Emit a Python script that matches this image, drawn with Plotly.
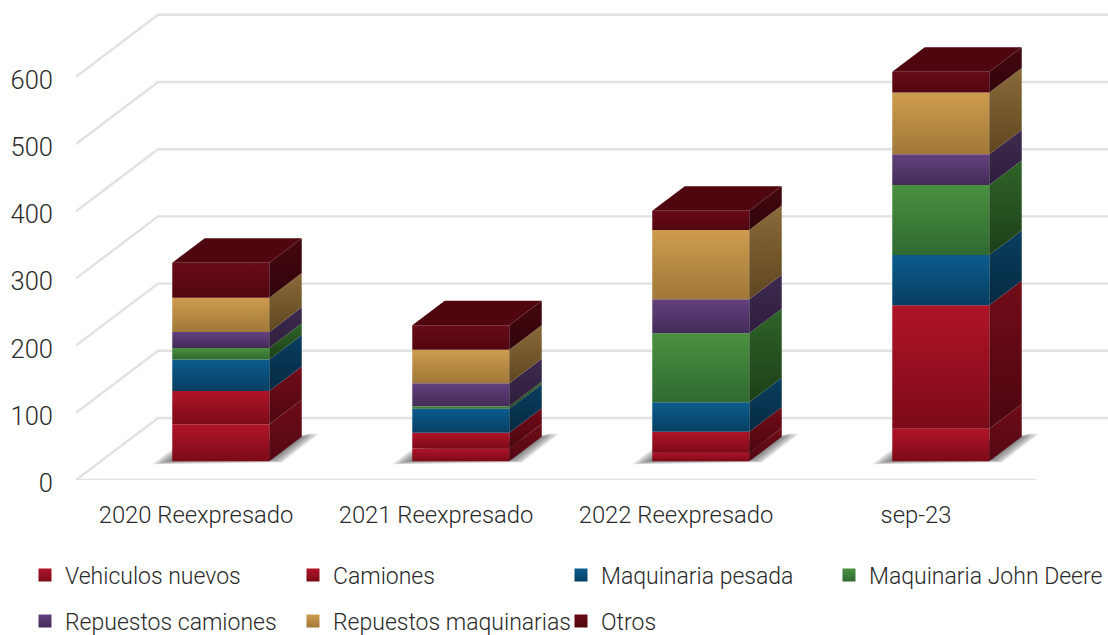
import plotly.graph_objects as go

CATEGORIES = ["2020 Reexpresado", "2021 Reexpresado", "2022 Reexpresado", "sep-23"]
TICKS = [0, 100, 200, 300, 400, 500, 600]
VEHICULOS = [55, 18.9, 12.8, 48.5]
CAMIONES = [49.5, 23.4, 31.2, 183.7]
PESADA = [47, 35.7, 43.8, 74.9]
DEERE = [17.2, 3.9, 102.7, 104]
REP_CAMIONES = [23.8, 34.2, 50.6, 45.6]
REP_MAQUINARIAS = [51, 49.7, 103.1, 92.1]
OTROS = [52, 36.6, 28.7, 30.8]

SERIES = [
    ("Vehiculos nuevos", VEHICULOS, "#B01428", "#7C0A18", "#6E0C18", "#530812"),
    ("Camiones", CAMIONES, "#B01428", "#7C0A18", "#720C18", "#4C0610"),
    ("Maquinaria pesada", PESADA, "#0B5C8E", "#073F62", "#0B3E60", "#042A42"),
    ("Maquinaria John Deere", DEERE, "#4A9040", "#2F6A30", "#2F6428", "#1C3F18"),
    ("Repuestos camiones", REP_CAMIONES, "#64407E", "#432C58", "#3E2A50", "#2E1E3C"),
    ("Repuestos maquinarias", REP_MAQUINARIAS, "#CE9C4E", "#A07838", "#8A6A3A", "#5F4620"),
    ("Otros", OTROS, "#680B18", "#520610", "#46070F", "#30040A"),
]
TOP_COLOR = "#50060F"
LEGEND_GROUPS = ["legend", "legend", "legend", "legend2", "legend3", "legend3", "legend3"]

FIG_W, FIG_H = 1108, 635
PX_CAT, PX_VAL = 240.0, 0.672      # pixels per category, per value unit
DX, DY = 82 / PX_CAT, 62 / PX_VAL  # oblique projection of the chart depth
BAR_W = 97 / PX_CAT
D0, D1 = 0.302, 0.698              # bar depth span in the floor
XMIN, XMAX = -0.5, 3.8
FONT = "Roboto"
TEXT = "#2A2A2A"
GRID = "#E2E2E2"


def proj(x, v, d):
    return x + d * DX, v + d * DY


def poly(points, c_top, c_bot):
    xs = [p[0] for p in points] + [points[0][0]]
    ys = [p[1] for p in points] + [points[0][1]]
    return go.Scatter(
        x=xs, y=ys, mode="lines", fill="toself", line=dict(width=0),
        fillgradient=dict(type="vertical", colorscale=[[0, c_bot], [1, c_top]]),
        showlegend=False, hoverinfo="skip", cliponaxis=False,
    )


fig = go.Figure()

# walls: one L-shaped gridline per tick
for t in TICKS:
    a = proj(XMIN, t, 0)
    b = proj(XMIN, t, 1)
    fig.add_trace(go.Scatter(
        x=[a[0], b[0], XMAX], y=[a[1], b[1], b[1]], mode="lines",
        line=dict(color=GRID, width=2.4), showlegend=False,
        hoverinfo="skip", cliponaxis=False,
    ))
fig.add_trace(go.Scatter(
    x=[XMIN, len(CATEGORIES) - 0.5], y=[0, 0], mode="lines",
    line=dict(color=GRID, width=2.4), showlegend=False,
    hoverinfo="skip", cliponaxis=False,
))

# bars
SHADOW = [(-20, -3), (110, -1), (146, 27), (138, 28), (129, 24.5), (0, 12)]  # px offsets from bar corner
SH_C = (64.5, 12)
for i in range(len(CATEGORIES)):
    x0, x1 = i - BAR_W / 2, i + BAR_W / 2
    f0 = proj(x0, 0, D0)
    for s in (1.0, 0.96, 0.92, 0.88, 0.84, 0.8, 0.76, 0.72):
        pts = [(f0[0] + (SH_C[0] + (px - SH_C[0]) * s) / PX_CAT,
                f0[1] + (SH_C[1] + (py - SH_C[1]) * s) / PX_VAL) for px, py in SHADOW]
        pts.append(pts[0])
        fig.add_trace(go.Scatter(
            x=[p[0] for p in pts], y=[p[1] for p in pts], mode="lines", fill="toself",
            line=dict(width=0), fillcolor="rgba(64,64,64,0.15)",
            showlegend=False, hoverinfo="skip", cliponaxis=False,
        ))

    bottom = 0
    for name, vals, ft, fb, st, sb in SERIES:
        top = bottom + vals[i]
        fig.add_trace(poly([proj(x0, bottom, D0), proj(x1, bottom, D0),
                            proj(x1, top, D0), proj(x0, top, D0)], ft, fb))
        fig.add_trace(poly([proj(x1, bottom, D0), proj(x1, bottom, D1),
                            proj(x1, top, D1), proj(x1, top, D0)], st, sb))
        bottom = top
    fig.add_trace(poly([proj(x0, bottom, D0), proj(x1, bottom, D0),
                        proj(x1, bottom, D1), proj(x0, bottom, D1)], TOP_COLOR, TOP_COLOR))

# legend entries
for k, (name, vals, ft, fb, st, sb) in enumerate(SERIES):
    fig.add_trace(go.Scatter(
        x=[None], y=[None], mode="markers", name=name,
        legend=LEGEND_GROUPS[k],
        marker=dict(symbol="square", size=13, color=ft,
                    gradient=dict(type="vertical", color=fb)),
    ))

legend_base = dict(
    orientation="h", xref="container", yref="container",
    xanchor="left", yanchor="middle", entrywidth=223, entrywidthmode="pixels",
    font=dict(family=FONT, size=23, color=TEXT, weight=300), bgcolor="rgba(0,0,0,0)",
    traceorder="normal",
)
ROW1 = 1 - 575 / FIG_H
ROW2 = 1 - 621 / FIG_H
COL1 = 25 / FIG_W
COL4 = (25 + 804) / FIG_W
fig.update_layout(
    width=FIG_W, height=FIG_H,
    autosize=False,
    margin=dict(l=76, r=0, t=0, b=FIG_H - 480, pad=0),
    paper_bgcolor="white", plot_bgcolor="white",
    legend=dict(legend_base, x=COL1, y=ROW1),
    legend2=dict(legend_base, x=COL4, y=ROW1, entrywidth=236),
    legend3=dict(legend_base, x=COL1, y=ROW2),
    xaxis=dict(
        range=[XMIN, XMAX], tickmode="array", tickvals=list(range(len(CATEGORIES))),
        ticktext=CATEGORIES, showgrid=False, zeroline=False, showline=False,
        tickfont=dict(family=FONT, size=23.8, color=TEXT, weight=300), ticklabelstandoff=18, ticks="",
    ),
    yaxis=dict(
        range=[0, 480 / PX_VAL], tickmode="array", tickvals=TICKS,
        showgrid=False, zeroline=False, showline=False, ticklabelshift=3,
        tickfont=dict(family=FONT, size=25.5, color=TEXT, weight=300), ticklabelstandoff=22, ticks="",
    ),
)
fig.write_html(
    "out.html",
    config={"displayModeBar": False},
    default_width=f"{FIG_W}px", default_height=f"{FIG_H}px",
    post_script="document.body.style.margin='0';document.documentElement.style.overflow='hidden';",
)
